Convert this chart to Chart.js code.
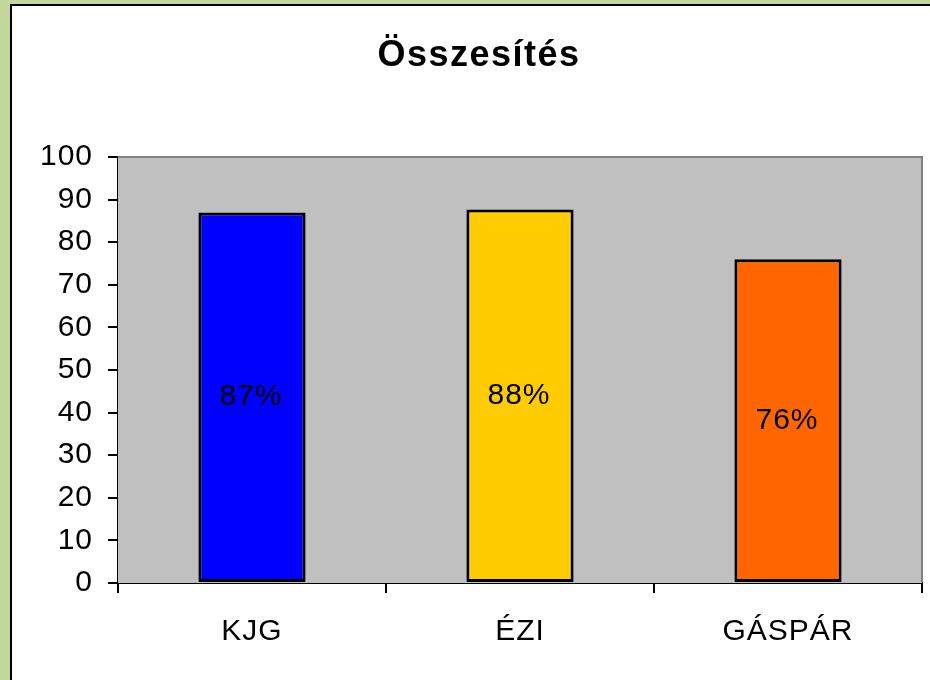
<!DOCTYPE html>
<html lang="hu">
<head>
    <meta charset="UTF-8">
    <title>Összesítés</title>
    <style>
        html, body { margin: 0; padding: 0; width: 930px; height: 680px; overflow: hidden; background: #c4d79b; }
        .frame { position: absolute; left: 10px; top: 4px; width: 960px; height: 720px; border: 2px solid #000; background: #fff; }
        canvas { position: absolute; left: 0; top: 0; }
    </style>
</head>
<body>
    <div class="frame"></div>
    <canvas id="summaryChart" width="930" height="680"></canvas>

    <script src="https://cdn.jsdelivr.net/npm/chart.js"></script>
    <script>
        const chartTitle = 'Összesítés';
        const names = ['KJG', 'ÉZI', 'GÁSPÁR'];
        const scores = [87, 87.7, 76];
        const barColors = ['#0000ff', '#ffcc00', '#ff6600'];
        const yTicks = [0, 10, 20, 30, 40, 50, 60, 70, 80, 90, 100];

        document.addEventListener('DOMContentLoaded', function () {
            const ctx = document.getElementById('summaryChart').getContext('2d');
            const font = { family: 'Arial, "Liberation Sans", sans-serif', size: 30 };

            // slight letter spacing like the old Excel output
            const spacing = {
                id: 'spacing',
                beforeLayout(chart) { chart.ctx.letterSpacing = '1px'; },
                beforeDraw(chart) { chart.ctx.letterSpacing = '1px'; }
            };

            // gray plot area with a gray border at top and right
            const plotArea = {
                id: 'plotArea',
                beforeDatasetsDraw(chart) {
                    const { ctx, chartArea: a } = chart;
                    ctx.save();
                    ctx.fillStyle = '#c0c0c0';
                    ctx.fillRect(a.left, a.top, a.right - a.left, a.bottom - a.top);
                    ctx.restore();
                },
                afterDraw(chart) {
                    const { ctx, chartArea: a } = chart;
                    ctx.save();
                    ctx.strokeStyle = '#808080';
                    ctx.lineWidth = 2;
                    ctx.beginPath();
                    ctx.moveTo(a.left, a.top);
                    ctx.lineTo(a.right, a.top);
                    ctx.lineTo(a.right, a.bottom - 1);
                    ctx.stroke();
                    // title
                    ctx.letterSpacing = '1.5px';
                    ctx.font = 'bold 36px Arial, "Liberation Sans", sans-serif';
                    ctx.fillStyle = '#000';
                    ctx.textAlign = 'center';
                    ctx.textBaseline = 'alphabetic';
                    ctx.fillText(chartTitle, 479, 66);
                    ctx.restore();
                }
            };

            // percentage labels in the middle of each bar
            const barLabels = {
                id: 'barLabels',
                afterDatasetsDraw(chart) {
                    const { ctx } = chart;
                    const meta = chart.getDatasetMeta(0);
                    ctx.save();
                    ctx.letterSpacing = '1px';
                    ctx.font = '30px Arial, "Liberation Sans", sans-serif';
                    ctx.fillStyle = '#000';
                    ctx.textAlign = 'center';
                    ctx.textBaseline = 'middle';
                    meta.data.forEach((bar, i) => {
                        const y = (bar.y + bar.base) / 2;
                        ctx.fillText(Math.round(scores[i]) + '%', bar.x - 1, y);
                    });
                    ctx.restore();
                }
            };

            new Chart(ctx, {
                type: 'bar',
                data: {
                    labels: names,
                    datasets: [{
                        data: scores,
                        backgroundColor: barColors,
                        borderColor: '#000',
                        borderWidth: 3,
                        borderSkipped: false,
                        barPercentage: 0.4,
                        categoryPercentage: 1
                    }]
                },
                options: {
                    responsive: false,
                    animation: false,
                    layout: { padding: { top: 157, right: 8, left: 0, bottom: 0 } },
                    plugins: {
                        legend: { display: false },
                        title: { display: false },
                        tooltip: { enabled: false }
                    },
                    scales: {
                        x: {
                            afterFit(scale) { scale.height = 97; },
                            grid: {
                                offset: true,
                                drawOnChartArea: false,
                                drawTicks: true,
                                tickLength: 10,
                                tickColor: '#000',
                                lineWidth: 2
                            },
                            border: { color: '#000', width: 2 },
                            ticks: { color: '#000', font: font, padding: 21, maxRotation: 0 }
                        },
                        y: {
                            min: 0,
                            max: 100,
                            afterFit(scale) { scale.width = 118; },
                            afterBuildTicks(scale) { scale.ticks = yTicks.map(v => ({ value: v })); },
                            grid: {
                                color: c => c.tick && c.tick.value === 100 ? 'rgba(0,0,0,0)' : '#000',
                                lineWidth: 2,
                                tickLength: 10,
                                tickColor: '#000'
                            },
                            border: { color: '#000', width: 2 },
                            ticks: { color: '#000', font: font, padding: 15 }
                        }
                    }
                },
                plugins: [spacing, plotArea, barLabels]
            });
        });
    </script>
</body>
</html>
